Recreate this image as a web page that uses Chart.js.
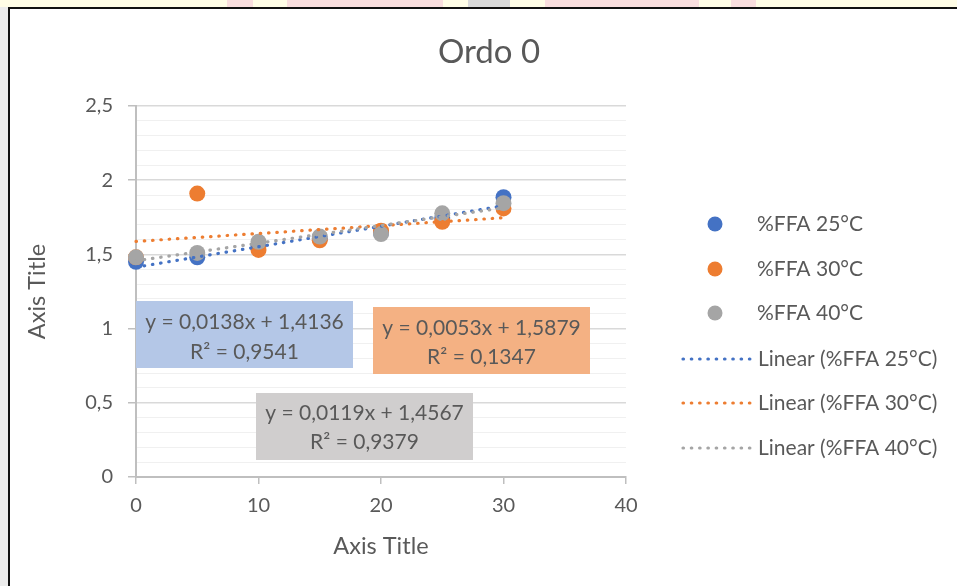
<!DOCTYPE html>
<html>
<head>
<meta charset="utf-8">
<script src="https://cdn.jsdelivr.net/npm/chart.js@4"></script>
<style>
  html, body { margin: 0; padding: 0; }
  body { width: 957px; height: 586px; position: relative; overflow: hidden; background: #ececec; }
  #strip { position: absolute; left: 0; top: 0; width: 957px; height: 7px; background: #fffde6; }
  .blk { position: absolute; top: 0; height: 7px; }
  #frame { position: absolute; left: 8px; top: 7px; width: 949px; height: 579px; border-left: 2px solid #111; border-top: 2px solid #111; background: #fff; box-sizing: border-box; }
  #c { position: absolute; left: 0; top: 0; }
</style>
</head>
<body>
<div id="strip">
  <div class="blk" style="left:227px;width:26px;background:#f9dede"></div>
  <div class="blk" style="left:287px;width:156px;background:#f9dede"></div>
  <div class="blk" style="left:468px;width:42px;background:#d9d9d9"></div>
  <div class="blk" style="left:545px;width:154px;background:#f9dede"></div>
  <div class="blk" style="left:731px;width:25px;background:#f9dede"></div>
</div>
<div id="frame"></div>
<canvas id="c" width="957" height="586"></canvas>
<script>
// ---- data ----
const xValues = [0, 5, 10, 15, 20, 25, 30];
const ffa25 = [1.45, 1.48, 1.56, 1.605, 1.645, 1.745, 1.885];
const ffa30 = [1.48, 1.91, 1.53, 1.595, 1.66, 1.72, 1.81];
const ffa40 = [1.48, 1.51, 1.585, 1.62, 1.637, 1.777, 1.845];
const seriesNames = ['%FFA 25°C', '%FFA 30°C', '%FFA 40°C'];
const trendSlopes = [0.0138, 0.0053, 0.0119];
const trendIntercepts = [1.4136, 1.5879, 1.4567];
const slopeLabels = ['0,0138', '0,0053', '0,0119'];
const interceptLabels = ['1,4136', '1,5879', '1,4567'];
const rSquaredLabels = ['0,9541', '0,1347', '0,9379'];
const yTickLabels = ['0', '0,5', '1', '1,5', '2', '2,5'];
const xTickLabels = ['0', '10', '20', '30', '40'];
const chartTitle = 'Ordo 0';
const axisTitle = 'Axis Title';

const colors = ['#4472c4', '#ed7d31', '#a5a5a5'];
const boxColors = ['#b4c7e7', '#f4b183', '#d0cece'];
const textColor = '#595959';
const FONT = 'Lato, "Open Sans", sans-serif';
const DOT = [0.5, 7.8];

const seriesValues = [ffa25, ffa30, ffa40];
const xMin = Math.min(...xValues), xMax = Math.max(...xValues);

const pointSets = seriesValues.map((vals, i) => ({
  type: 'scatter',
  label: seriesNames[i],
  data: xValues.map((x, k) => ({ x: x, y: vals[k] })),
  backgroundColor: colors[i],
  borderWidth: 0,
  pointRadius: 8,
  pointHoverRadius: 8,
  clip: false,
  order: 6 - i
}));
const trendSets = trendSlopes.map((m, i) => ({
  type: 'scatter',
  showLine: true,
  label: 'Linear (' + seriesNames[i] + ')',
  data: [xMin, xMax].map(x => ({ x: x, y: trendIntercepts[i] + m * x })),
  borderColor: colors[i],
  borderWidth: 3.2,
  borderDash: DOT,
  borderCapStyle: 'round',
  pointRadius: 0,
  pointHoverRadius: 0,
  clip: false,
  order: 3 - i
}));

function isMajor(v) { return Math.abs(v * 2 - Math.round(v * 2)) < 1e-6; }

const decor = {
  id: 'decor',
  afterDraw(chart) {
    const ctx = chart.ctx;
    ctx.save();
    // title
    ctx.fillStyle = textColor;
    ctx.font = '33px ' + FONT;
    ctx.textAlign = 'center';
    ctx.textBaseline = 'middle';
    ctx.fillText(chartTitle, 489, 52);

    // equation boxes
    const boxes = [
      { l: 136, t: 301, w: 217, h: 67, cy1: 322, cy2: 352 },
      { l: 373, t: 307, w: 217, h: 67, cy1: 328, cy2: 357 },
      { l: 256, t: 393, w: 217, h: 67, cy1: 413, cy2: 442 }
    ];
    boxes.forEach((b, i) => {
      ctx.fillStyle = boxColors[i];
      ctx.fillRect(b.l, b.t, b.w, b.h);
      ctx.fillStyle = textColor;
      ctx.font = '21px ' + FONT;
      ctx.textAlign = 'center';
      ctx.fillText('y = ' + slopeLabels[i] + 'x + ' + interceptLabels[i], b.l + b.w / 2, b.cy1);
      ctx.fillText('R² = ' + rSquaredLabels[i], b.l + b.w / 2, b.cy2);
    });

    // legend
    ctx.font = '21px ' + FONT;
    ctx.textAlign = 'left';
    const ys = [224, 269, 313, 359, 403, 448];
    seriesNames.forEach((n, i) => {
      ctx.fillStyle = colors[i];
      ctx.beginPath();
      ctx.arc(715, ys[i], 7.5, 0, Math.PI * 2);
      ctx.fill();
      ctx.fillStyle = textColor;
      ctx.fillText(n, 757, ys[i]);
    });
    seriesNames.forEach((n, i) => {
      const y = ys[i + 3];
      ctx.strokeStyle = colors[i];
      ctx.lineWidth = 3.2;
      ctx.lineCap = 'round';
      ctx.setLineDash(DOT);
      ctx.beginPath();
      ctx.moveTo(683, y);
      ctx.lineTo(750, y);
      ctx.stroke();
      ctx.setLineDash([]);
      ctx.fillStyle = textColor;
      ctx.fillText('Linear (' + n + ')', 758, y);
    });
    ctx.restore();
  }
};

new Chart(document.getElementById('c'), {
  type: 'scatter',
  data: { datasets: [...pointSets, ...trendSets] },
  options: {
    responsive: false,
    animation: false,
    devicePixelRatio: 1,
    layout: { padding: { left: 0, top: 106, right: 331, bottom: 0 } },
    plugins: { legend: { display: false }, title: { display: false }, tooltip: { enabled: false } },
    scales: {
      x: {
        type: 'linear', min: 0, max: 40,
        afterFit(s) { s.height = 109; },
        ticks: {
          stepSize: 10, color: textColor, padding: 10,
          font: { family: FONT, size: 20 },
          callback: (v) => xTickLabels[Math.round(v / 10)] ?? ''
        },
        grid: { drawOnChartArea: false, drawTicks: true, tickLength: 7, tickColor: '#bfbfbf', lineWidth: 1.5 },
        border: { color: '#bfbfbf', width: 2 },
        title: { display: true, text: axisTitle, color: textColor, font: { family: FONT, size: 23.5 }, padding: { top: 0, bottom: 25 } }
      },
      y: {
        type: 'linear', min: 0, max: 2.5,
        afterFit(s) { s.width = 136; },
        ticks: {
          stepSize: 0.1, autoSkip: false, color: textColor, padding: 15,
          font: { family: FONT, size: 20 },
          callback: (v) => isMajor(v) ? yTickLabels[Math.round(v * 2)] : ''
        },
        grid: {
          color: (c) => isMajor(c.tick.value) ? '#d9d9d9' : '#f0f0f0',
          lineWidth: (c) => isMajor(c.tick.value) ? 1.5 : 1,
          tickColor: (c) => isMajor(c.tick.value) ? '#bfbfbf' : 'rgba(0,0,0,0)',
          tickLength: 8
        },
        border: { color: '#bfbfbf', width: 2 },
        title: { display: true, text: axisTitle, color: textColor, font: { family: FONT, size: 23.5 }, padding: { top: 23, bottom: 0 } }
      }
    }
  },
  plugins: [decor]
});
</script>
</body>
</html>
